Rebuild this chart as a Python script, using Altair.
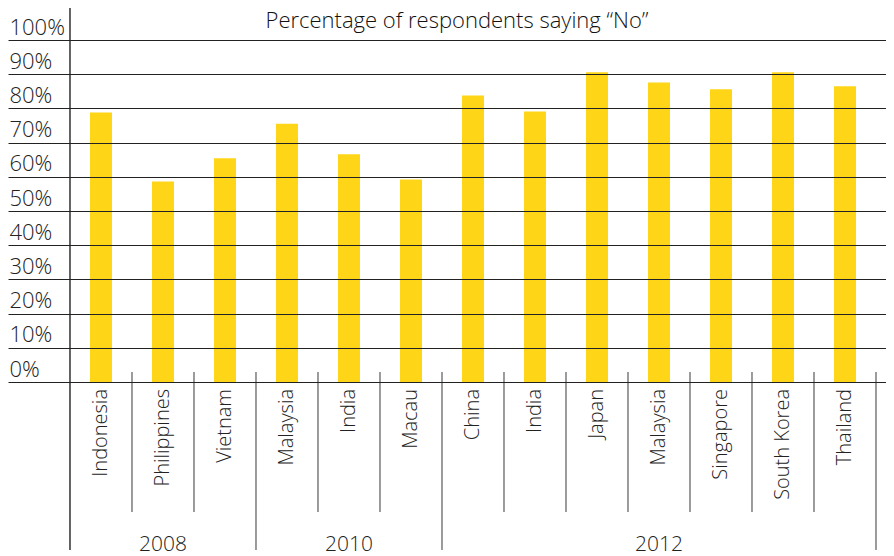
import altair as alt
import pandas as pd

years = ["2008", "2008", "2008", "2010", "2010", "2010",
         "2012", "2012", "2012", "2012", "2012", "2012", "2012"]
countries = ["Indonesia", "Philippines", "Vietnam", "Malaysia", "India", "Macau",
             "China", "India", "Japan", "Malaysia", "Singapore", "South Korea", "Thailand"]
values = [78.8, 58.6, 65.4, 75.5, 66.6, 59.2, 83.8, 79.1, 90.6, 87.6, 85.6, 90.6, 86.5]
y_ticks = [0, 10, 20, 30, 40, 50, 60, 70, 80, 90, 100]
title_text = "Percentage of respondents saying \u201cNo\u201d"

FONT = "Open Sans"
WEIGHT = 300
keys = [f"{y}|{c}" for y, c in zip(years, countries)]
df = pd.DataFrame({"key": keys, "year": years, "country": countries, "value": values})

first_flags = [i == 0 or years[i] != years[i - 1] for i in range(len(years))]
sep_df = pd.DataFrame({"key": keys, "tall": first_flags})
sep_short = sep_df[~sep_df["tall"]]
sep_tall = sep_df[sep_df["tall"] & (sep_df.index > 0)]
end_df = pd.DataFrame({"key": [keys[-1]]})
axis_df = pd.DataFrame({"key": [keys[0]]})
title_df = pd.DataFrame({"t": [title_text]})

yr_rows = []
for yr in dict.fromkeys(years):
    ks = [k for k, y in zip(keys, years) if y == yr]
    yr_rows.append({"key": ks[len(ks) // 2], "year": yr})
yr_df = pd.DataFrame(yr_rows)

xscale = alt.Scale(domain=keys, paddingInner=0, paddingOuter=0.5806, align=0.861)
X = alt.X("key:N", scale=xscale, axis=None, sort=keys)

bars = alt.Chart(df).mark_bar(color="#FED617", width=alt.RelativeBandSize(22 / 62)).encode(
    x=X,
    y=alt.Y("value:Q", scale=alt.Scale(domain=[0, 100], nice=False),
            axis=alt.Axis(values=y_ticks, format=".0f", labelExpr="datum.label + '%'",
                          domain=False, ticks=False, grid=True, gridColor="#222",
                          gridWidth=1, gridOpacity=1, labelAlign="left", labelPadding=-1,
                          labelBaseline="alphabetic", labelOffset=-6, labelFont=FONT,
                          labelFontWeight=WEIGHT,
                          labelFontSize=22, labelColor="#222", title=None, zindex=1)),
)

short_rules = alt.Chart(sep_short).mark_rule(color="#666", strokeWidth=1.3).encode(
    x=alt.X("key:N", scale=xscale, axis=None, bandPosition=0),
    y=alt.value(332), y2=alt.value(472))
tall_rules = alt.Chart(sep_tall).mark_rule(color="#666", strokeWidth=1.3).encode(
    x=alt.X("key:N", scale=xscale, axis=None, bandPosition=0),
    y=alt.value(332), y2=alt.value(510))
end_rule = alt.Chart(end_df).mark_rule(color="#666", strokeWidth=1.3).encode(
    x=alt.X("key:N", scale=xscale, axis=None, bandPosition=1),
    y=alt.value(332), y2=alt.value(510))
axis_rule = alt.Chart(axis_df).mark_rule(color="#111", strokeWidth=1.3).encode(
    x=alt.X("key:N", scale=xscale, axis=None, bandPosition=0),
    y=alt.value(-36), y2=alt.value(510))

cat_text = alt.Chart(df).mark_text(angle=270, align="right", baseline="middle",
                                   font=FONT, fontSize=20, fontWeight=WEIGHT,
                                   color="#222").encode(
    x=X, y=alt.value(349), text="country:N")

year_text = alt.Chart(yr_df).mark_text(align="center", baseline="alphabetic",
                                       font=FONT, fontSize=21, fontWeight=WEIGHT,
                                       color="#222").encode(
    x=X, y=alt.value(511), text="year:N")

title_mark = alt.Chart(title_df).mark_text(align="center", baseline="alphabetic",
                                           font=FONT, fontSize=22, fontWeight=WEIGHT,
                                           color="#111").encode(
    x=alt.value(449), y=alt.value(-12), text="t:N")

chart = alt.layer(bars, short_rules, tall_rules, end_rule, axis_rule, cat_text, year_text,
                  title_mark).properties(
    width=878, height=342,
    autosize=alt.AutoSizeParams(type="none"),
    padding={"left": 0, "top": 32, "right": 0, "bottom": 174},
).configure_view(stroke=None)

chart.save("out.html", embed_options={"renderer": "svg", "actions": False})
